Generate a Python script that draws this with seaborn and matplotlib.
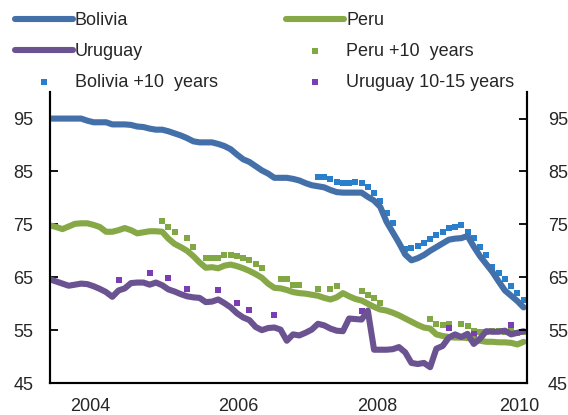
import numpy as np
import pandas as pd
import matplotlib
matplotlib.use('Agg')
import matplotlib.pyplot as plt
import seaborn as sns

nan = np.nan

# monthly series, Jan 2004 .. May 2010
bolivia = [95.0, 95.0, 95.0, 95.0, 95.0, 95.0, 94.6, 94.3, 94.3, 94.3, 93.9, 93.9, 93.9, 93.8, 93.5, 93.4, 93.1, 92.9, 92.9, 92.6,
           92.2, 91.8, 91.3, 90.7, 90.5, 90.5, 90.5, 90.2, 89.8, 89.2, 88.2, 87.3, 86.8, 86.0, 85.2, 84.6, 83.8, 83.8, 83.8,
           83.6, 83.3, 82.8, 82.4, 82.2, 82.0, 81.5, 81.1, 81.0, 81.0, 81.0, 81.0, 80.2, 79.5, 78.3, 75.5, 73.5, 71.5, 69.3,
           68.2, 68.6, 69.2, 70.0, 70.7, 71.4, 72.1, 72.3, 72.4, 72.8, 70.8, 69.0, 67.5, 66.0, 64.2, 62.5, 61.5, 60.5, 59.3]
peru = [74.8, 74.5, 74.1, 74.6, 75.1, 75.2, 75.2, 74.9, 74.5, 73.6, 73.6, 73.9, 74.3, 73.9, 73.3, 73.5, 73.7, 73.7, 73.6, 72.3,
        71.3, 70.7, 70.0, 69.0, 67.8, 66.8, 66.9, 66.7, 67.2, 67.4, 67.1, 66.7, 66.2, 65.6, 64.9, 63.8, 63.0, 62.9, 62.6,
        62.2, 62.0, 61.9, 61.7, 61.5, 61.1, 60.8, 61.2, 62.0, 61.4, 60.9, 60.6, 60.0, 59.4, 58.9, 58.7, 58.3, 57.8, 57.2,
        56.6, 56.0, 55.5, 55.3, 54.2, 53.9, 53.7, 53.6, 53.6, 53.5, 53.3, 53.0, 52.8, 52.8, 52.7, 52.7, 52.6, 52.3, 52.8]
uruguay = [64.6, 64.2, 63.8, 63.4, 63.6, 63.8, 63.7, 63.3, 62.8, 62.2, 61.3, 62.5, 62.9, 63.9, 64.0, 64.0, 63.6, 64.0, 63.5, 62.7,
           62.3, 61.8, 61.4, 61.2, 61.1, 60.3, 60.4, 60.8, 60.1, 59.3, 58.2, 57.4, 56.9, 55.6, 55.0, 55.4, 55.5, 55.1, 53.0,
           54.2, 54.0, 54.5, 55.1, 56.2, 55.9, 55.3, 54.9, 54.8, 57.2, 57.1, 57.0, 58.7, 51.3, 51.3, 51.3, 51.4, 51.8, 50.8,
           48.8, 48.6, 48.8, 48.0, 51.5, 52.0, 53.6, 54.2, 53.7, 54.3, 52.4, 53.4, 54.8, 54.7, 54.7, 54.9, 54.2, 54.5, 54.8]

bolivia_10 = [nan] * 43 + [83.9, 83.9, 83.5, 83.1, 82.8, 82.8, 83.1, 82.8, 82.0, 81.0, 79.5, 77.2, 75.2, nan,
                           70.3, 70.6, 71.0, 71.5, 72.3, 73.0, 73.6, 74.3, 74.5, 74.9, 73.6, 72.5, 70.8, 69.2,
                           67.0, 65.8, 64.6, 63.3, 62.0, 60.7]
peru_10 = [nan] * 18 + [75.6, 74.5, 73.6, nan, 72.5, 70.8, nan, 68.7, 68.7, 68.7, 69.3, 69.3, 69.0, 68.7, 68.2, 67.5, 66.7,
                        nan, nan, 64.6, 64.6, 63.6, 63.6, nan, nan, 62.7, nan, 62.7, 63.3, nan, nan, nan, 62.4, 61.7, 61.1, 60.2,
                        nan, nan, nan, nan, nan, nan, nan,
                        57.2, 56.2, 55.9, 56.2, nan, 56.2, 55.7, 54.9, 54.7, 54.7, 54.9, 54.9, 54.7, 55.1, 54.5, 54.7]
uruguay_dot_months = [11, 16, 19, 22, 27, 30, 32, 36, 50, 64, 68, 74]
uruguay_dot_values = [64.4, 65.8, 64.8, 62.8, 62.5, 60.1, 58.8, 57.9, 58.7, 55.5, 54.2, 55.9]

year_ticks = [2004, 2005, 2006, 2007, 2008, 2009, 2010]
year_labels = ['2004', '2006', '2008', '2010']
label_pos = [2004.54, 2006.52, 2008.38, 2010.28]

years = 2004 + np.arange(len(bolivia)) / 12
df = pd.DataFrame({'year': years, 'Bolivia': bolivia, 'Peru': peru, 'Uruguay': uruguay,
                   'Bolivia10': bolivia_10, 'Peru10': peru_10})
uru = pd.DataFrame({'year': 2004 + np.array(uruguay_dot_months) / 12, 'val': uruguay_dot_values})

sns.set_style('white')
plt.rcParams['font.family'] = ['Liberation Sans', 'DejaVu Sans']

fig = plt.figure(figsize=(5.68, 4.15), dpi=100)
ax = fig.add_axes([0.088, 0.077, 0.840, 0.701])

dot_kw = dict(marker='s', s=15, linewidth=0, ax=ax, zorder=2)
sns.scatterplot(data=df, x='year', y='Peru10', color='#82A845', label='Peru +10  years', **dot_kw)
sns.scatterplot(data=df, x='year', y='Bolivia10', color='#2A7FCC', label='Bolivia +10  years', **dot_kw)
sns.scatterplot(data=uru, x='year', y='val', color='#7B3DB3', label='Uruguay 10-15 years', **dot_kw)

line_kw = dict(lw=4.4, ax=ax, zorder=3, solid_joinstyle='round', solid_capstyle='round')
sns.lineplot(data=df, x='year', y='Bolivia', color='#4470A9', label='Bolivia', **line_kw)
sns.lineplot(data=df, x='year', y='Peru', color='#87A847', label='Peru', **line_kw)
sns.lineplot(data=df, x='year', y='Uruguay', color='#6B5391', label='Uruguay', **line_kw)

ax.set_xlim(2004, 2010.38)
ax.set_ylim(45, 100)
ax.set_xlabel('')
ax.set_ylabel('')
ax.set_yticks(range(45, 100, 10))
ax.set_xticks(year_ticks)
ax.set_xticklabels([])
ax.set_xticks(label_pos, minor=True)
ax.set_xticklabels(year_labels, minor=True)
ax.tick_params(axis='x', which='major', direction='out', length=5, width=1.3, color='black')
ax.tick_params(axis='x', which='minor', length=0, labelsize=13, pad=11)
ax.tick_params(axis='y', direction='in', length=6, width=1.3, color='black', labelsize=13, pad=12, left=True)

ax2 = ax.twinx()
ax2.set_ylim(ax.get_ylim())
ax2.set_yticks(range(45, 100, 10))
ax2.tick_params(axis='y', direction='in', length=6, width=1.3, color='black', labelsize=13, pad=15, right=True)
ax2.grid(False)

for a in (ax, ax2):
    a.spines['top'].set_visible(False)
    for side in ('left', 'right', 'bottom'):
        a.spines[side].set_color('black')
        a.spines[side].set_linewidth(1.5)

handles, labels = ax.get_legend_handles_labels()
ax.legend_.remove()
order = ['Bolivia', 'Uruguay', 'Bolivia +10  years', 'Peru', 'Peru +10  years', 'Uruguay 10-15 years']
hmap = dict(zip(labels, handles))
fig.legend([hmap[l] for l in order], order, loc='upper left', bbox_to_anchor=(0.026, 0.97),
           ncol=2, frameon=False, fontsize=13, handlelength=3.2, handletextpad=0.12,
           columnspacing=3.8, labelspacing=0.75, borderpad=0, borderaxespad=0, markerscale=1.0)

fig.savefig('out.png', dpi=100)
